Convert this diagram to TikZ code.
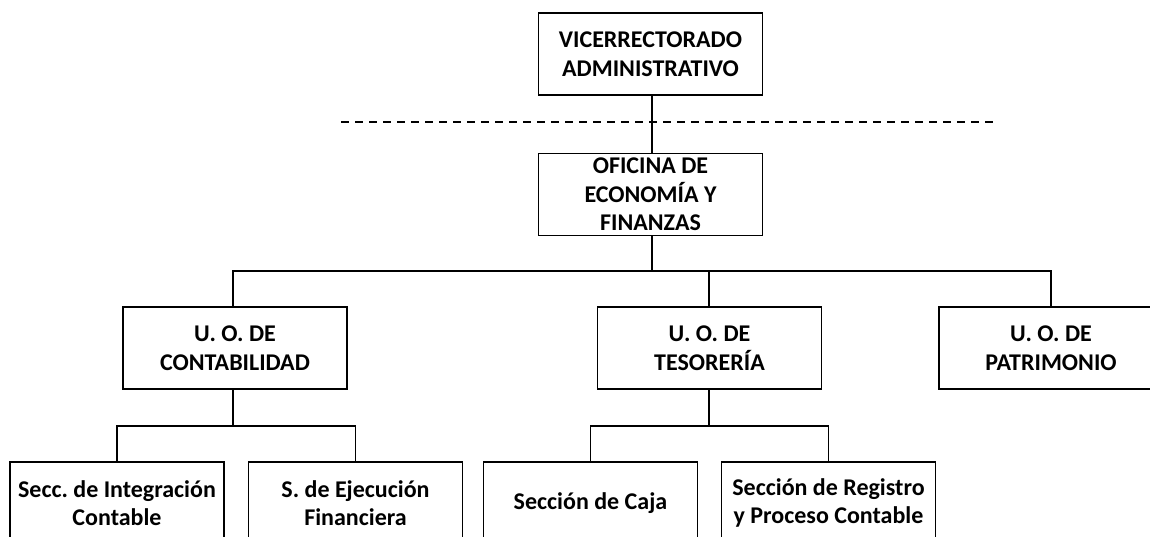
\documentclass[tikz,border=0pt]{standalone}
\usepackage{fontspec}
\setmainfont{Carlito}
\frenchspacing
\begin{document}
\begin{tikzpicture}[
        x=1pt, y=-1pt,
        unit/.style={rectangle, draw=black, line width=1.9pt, minimum width=224pt, minimum height=82pt, align=center, inner sep=0pt, font=\fontsize{24}{28.5}\selectfont\bfseries},
        section/.style={unit, minimum width=214pt},
        link/.style={line width=1.6pt},
        divide/.style={line width=1.8pt, dash pattern=on 8pt off 6pt}
    ]
    \useasboundingbox (0,0) rectangle (1150,537);
    \clip (0,0) rectangle (1150,537);
    
    % Top
    \node[unit] (vice) at (650.5,54) {VICERRECTORADO\\ADMINISTRATIVO};
    \node[unit] (ofi) at (650.5,194.5) {OFICINA DE\\ECONOMÍA Y\\FINANZAS};
    
    % Dashed division
    \coordinate (dl) at (341,122);
    \coordinate (dr) at (993,122);
    \draw[divide] (dl) -- (dr);
    
    % Units
    \node[unit] (conta) at (235,348) {U. O. DE\\CONTABILIDAD};
    \node[unit] (teso) at (709.5,348) {U. O. DE\\TESORERÍA};
    \node[unit] (patri) at (1051,348) {U. O. DE\\PATRIMONIO};
    
    % Sections
    \node[section] (integ) at (117,503) {Secc. de Integración\\Contable};
    \node[section] (ejec) at (355.5,503) {S. de Ejecución\\Financiera};
    \node[section] (caja) at (590.5,503) {Sección de Caja};
    \node[section] (regis) at (828.5,503) {Sección de Registro\\y Proceso Contable};
    
    % Buses
    \coordinate (bus) at (652,271);
    \coordinate (cbus) at (233,426);
    \coordinate (tbus) at (709,426);
    
    % Vice -> Oficina
    \draw[link] (vice.south -| bus) -- (ofi.north -| bus);
    
    % Oficina -> units
    \draw[link] (ofi.south -| bus) -- (bus);
    \draw[link] (conta.north -| cbus) |- (bus) -| (patri.north);
    \draw[link] (teso.north -| tbus) -- (tbus |- bus);
    
    % Contabilidad -> sections
    \draw[link] (conta.south -| cbus) -- (cbus);
    \draw[link] (integ.north) |- (cbus) -| (ejec.north);
    
    % Tesoreria -> sections
    \draw[link] (teso.south -| tbus) -- (tbus);
    \draw[link] (caja.north) |- (tbus) -| (regis.north);
    
\end{tikzpicture}
\end{document}
